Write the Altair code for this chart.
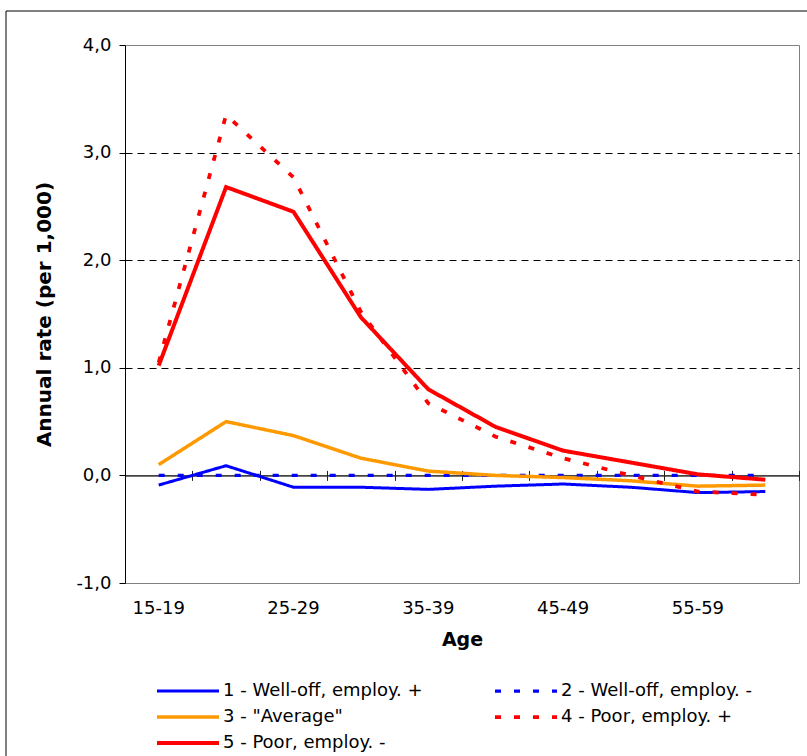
import altair as alt
import pandas as pd

ages = ['15-19', '20-24', '25-29', '30-34', '35-39', '40-44', '45-49', '50-54', '55-59', '60-64']
shown_labels = ['15-19', '25-29', '35-39', '45-49', '55-59']
series_names = ['1 - Well-off, employ. +', '2 - Well-off, employ. -', '3 - "Average"',
                '4 - Poor, employ. +', '5 - Poor, employ. -']
s1 = [-0.09, 0.09, -0.11, -0.11, -0.13, -0.10, -0.08, -0.11, -0.16, -0.15]
s2 = [0.0, 0.0, 0.0, 0.0, 0.0, 0.0, 0.0, 0.0, 0.0, 0.0]
s3 = [0.10, 0.50, 0.37, 0.16, 0.04, 0.00, -0.02, -0.05, -0.10, -0.09]
s4 = [1.05, 3.35, 2.77, 1.52, 0.67, 0.36, 0.16, 0.00, -0.15, -0.18]
s5 = [1.02, 2.68, 2.45, 1.47, 0.80, 0.45, 0.23, 0.12, 0.01, -0.04]
colors = ['#0000FF', '#0000FF', '#FF9900', '#FF0000', '#FF0000']
dashes = [[1, 0], [6, 13], [1, 0], [6, 13], [1, 0]]
widths = [3, 4, 3, 4, 3]

rows = []
for name, vals in zip(series_names, [s1, s2, s3, s4, s5]):
    for a, v in zip(ages, vals):
        rows.append({'age': a, 'series': name, 'rate': v})
df = pd.DataFrame(rows)

FONT = 'DejaVu Sans'
W, H = 674, 538
zero_px = H * 1 / 5  # distance of value 0 from bottom (domain -1..4)

x_scale = alt.Scale(type='band', domain=ages, paddingInner=0, paddingOuter=0)
y_scale = alt.Scale(domain=[-1, 4], nice=False, zero=False)

arr = '[' + ','.join("'" + a + "'" for a in shown_labels) + ']'

axis_labels = alt.Axis(orient='bottom', domain=False, ticks=False, grid=False,
                       labelExpr=f"indexof({arr}, datum.value) >= 0 ? datum.label : ''",
                       labelAngle=0, labelFont=FONT, labelFontSize=18, labelColor='black',
                       labelPadding=16, title='Age', titleFont=FONT, titleFontSize=19,
                       titleFontWeight='bold', titleColor='black', titlePadding=13)
axis_zero_bottom = alt.Axis(orient='bottom', offset=-zero_px, labels=False, title=None,
                            grid=False, domain=True, domainColor='#222222', ticks=True,
                            tickSize=5, tickColor='#222222', tickBand='extent')
axis_zero_top = alt.Axis(orient='top', offset=-(H - zero_px), labels=False, title=None,
                         grid=False, domain=True, domainColor='#222222', ticks=True,
                         tickSize=5, tickColor='#222222', tickBand='extent')

y_axis = alt.Axis(values=[-1, 0, 1, 2, 3, 4],
                  labelExpr="(datum.value < 0 ? '-' : '') + replace(format(abs(datum.value), '.1f'), '.', ',')",
                  labelFont=FONT, labelFontSize=18, labelColor='black', labelPadding=8,
                  tickSize=6, tickColor='black', domainColor='black',
                  grid=True, gridColor='black', gridDash=[7, 5],
                  gridOpacity={"condition": {"test": "datum.value < 0.5 || datum.value > 3.5", "value": 0}, "value": 1},
                  title='Annual rate (per 1,000)', titleFont=FONT, titleFontSize=20,
                  titleFontWeight='bold', titleColor='black', titlePadding=21)

legend_kw = dict(title=None, orient='none', legendX=32, legendY=637, columns=2,
                 direction='horizontal',
                 columnPadding=64, rowPadding=8, symbolType='M-15.5,0H15.5', symbolSize=16,
                 symbolStrokeWidth=3, symbolOffset=22, labelOffset=26, labelFont=FONT,
                 labelFontSize=18, labelColor='black', labelLimit=600, padding=0)

lines = alt.Chart(df).mark_line(strokeCap='butt').encode(
    x=alt.X('age:N', scale=x_scale, sort=ages, bandPosition=0.5, axis=axis_labels),
    y=alt.Y('rate:Q', scale=y_scale, axis=y_axis),
    color=alt.Color('series:N', scale=alt.Scale(domain=series_names, range=colors),
                    legend=alt.Legend(**legend_kw)),
    strokeDash=alt.StrokeDash('series:N', scale=alt.Scale(domain=series_names, range=dashes),
                              legend=alt.Legend(**legend_kw)),
    strokeWidth=alt.StrokeWidth('series:N', scale=alt.Scale(domain=series_names, range=widths),
                                legend=None),
    order=alt.Order('series:N'),
)

zero_b = alt.Chart(df).mark_point(opacity=0).encode(
    x=alt.X('age:N', scale=x_scale, sort=ages, bandPosition=0.5, axis=axis_zero_bottom))
zero_t = alt.Chart(df).mark_point(opacity=0).encode(
    x=alt.X('age:N', scale=x_scale, sort=ages, bandPosition=0.5, axis=axis_zero_top))

border = alt.Chart(alt.Data(values=[{}])).mark_rect(fillOpacity=0, stroke='black', strokeWidth=1).encode(
    x=alt.value(-119), x2=alt.value(700), y=alt.value(-34), y2=alt.value(720))

chart = alt.layer(border, zero_b, zero_t, lines).resolve_axis(x='independent').properties(
    width=W, height=H,
    autosize=alt.AutoSizeParams(type='none'),
    padding={'left': 125, 'top': 45, 'right': 8, 'bottom': 173},
    background='white',
).configure_view(stroke='#808080', strokeWidth=1)

chart.save("out.html", embed_options={"renderer": "svg", "actions": False})
